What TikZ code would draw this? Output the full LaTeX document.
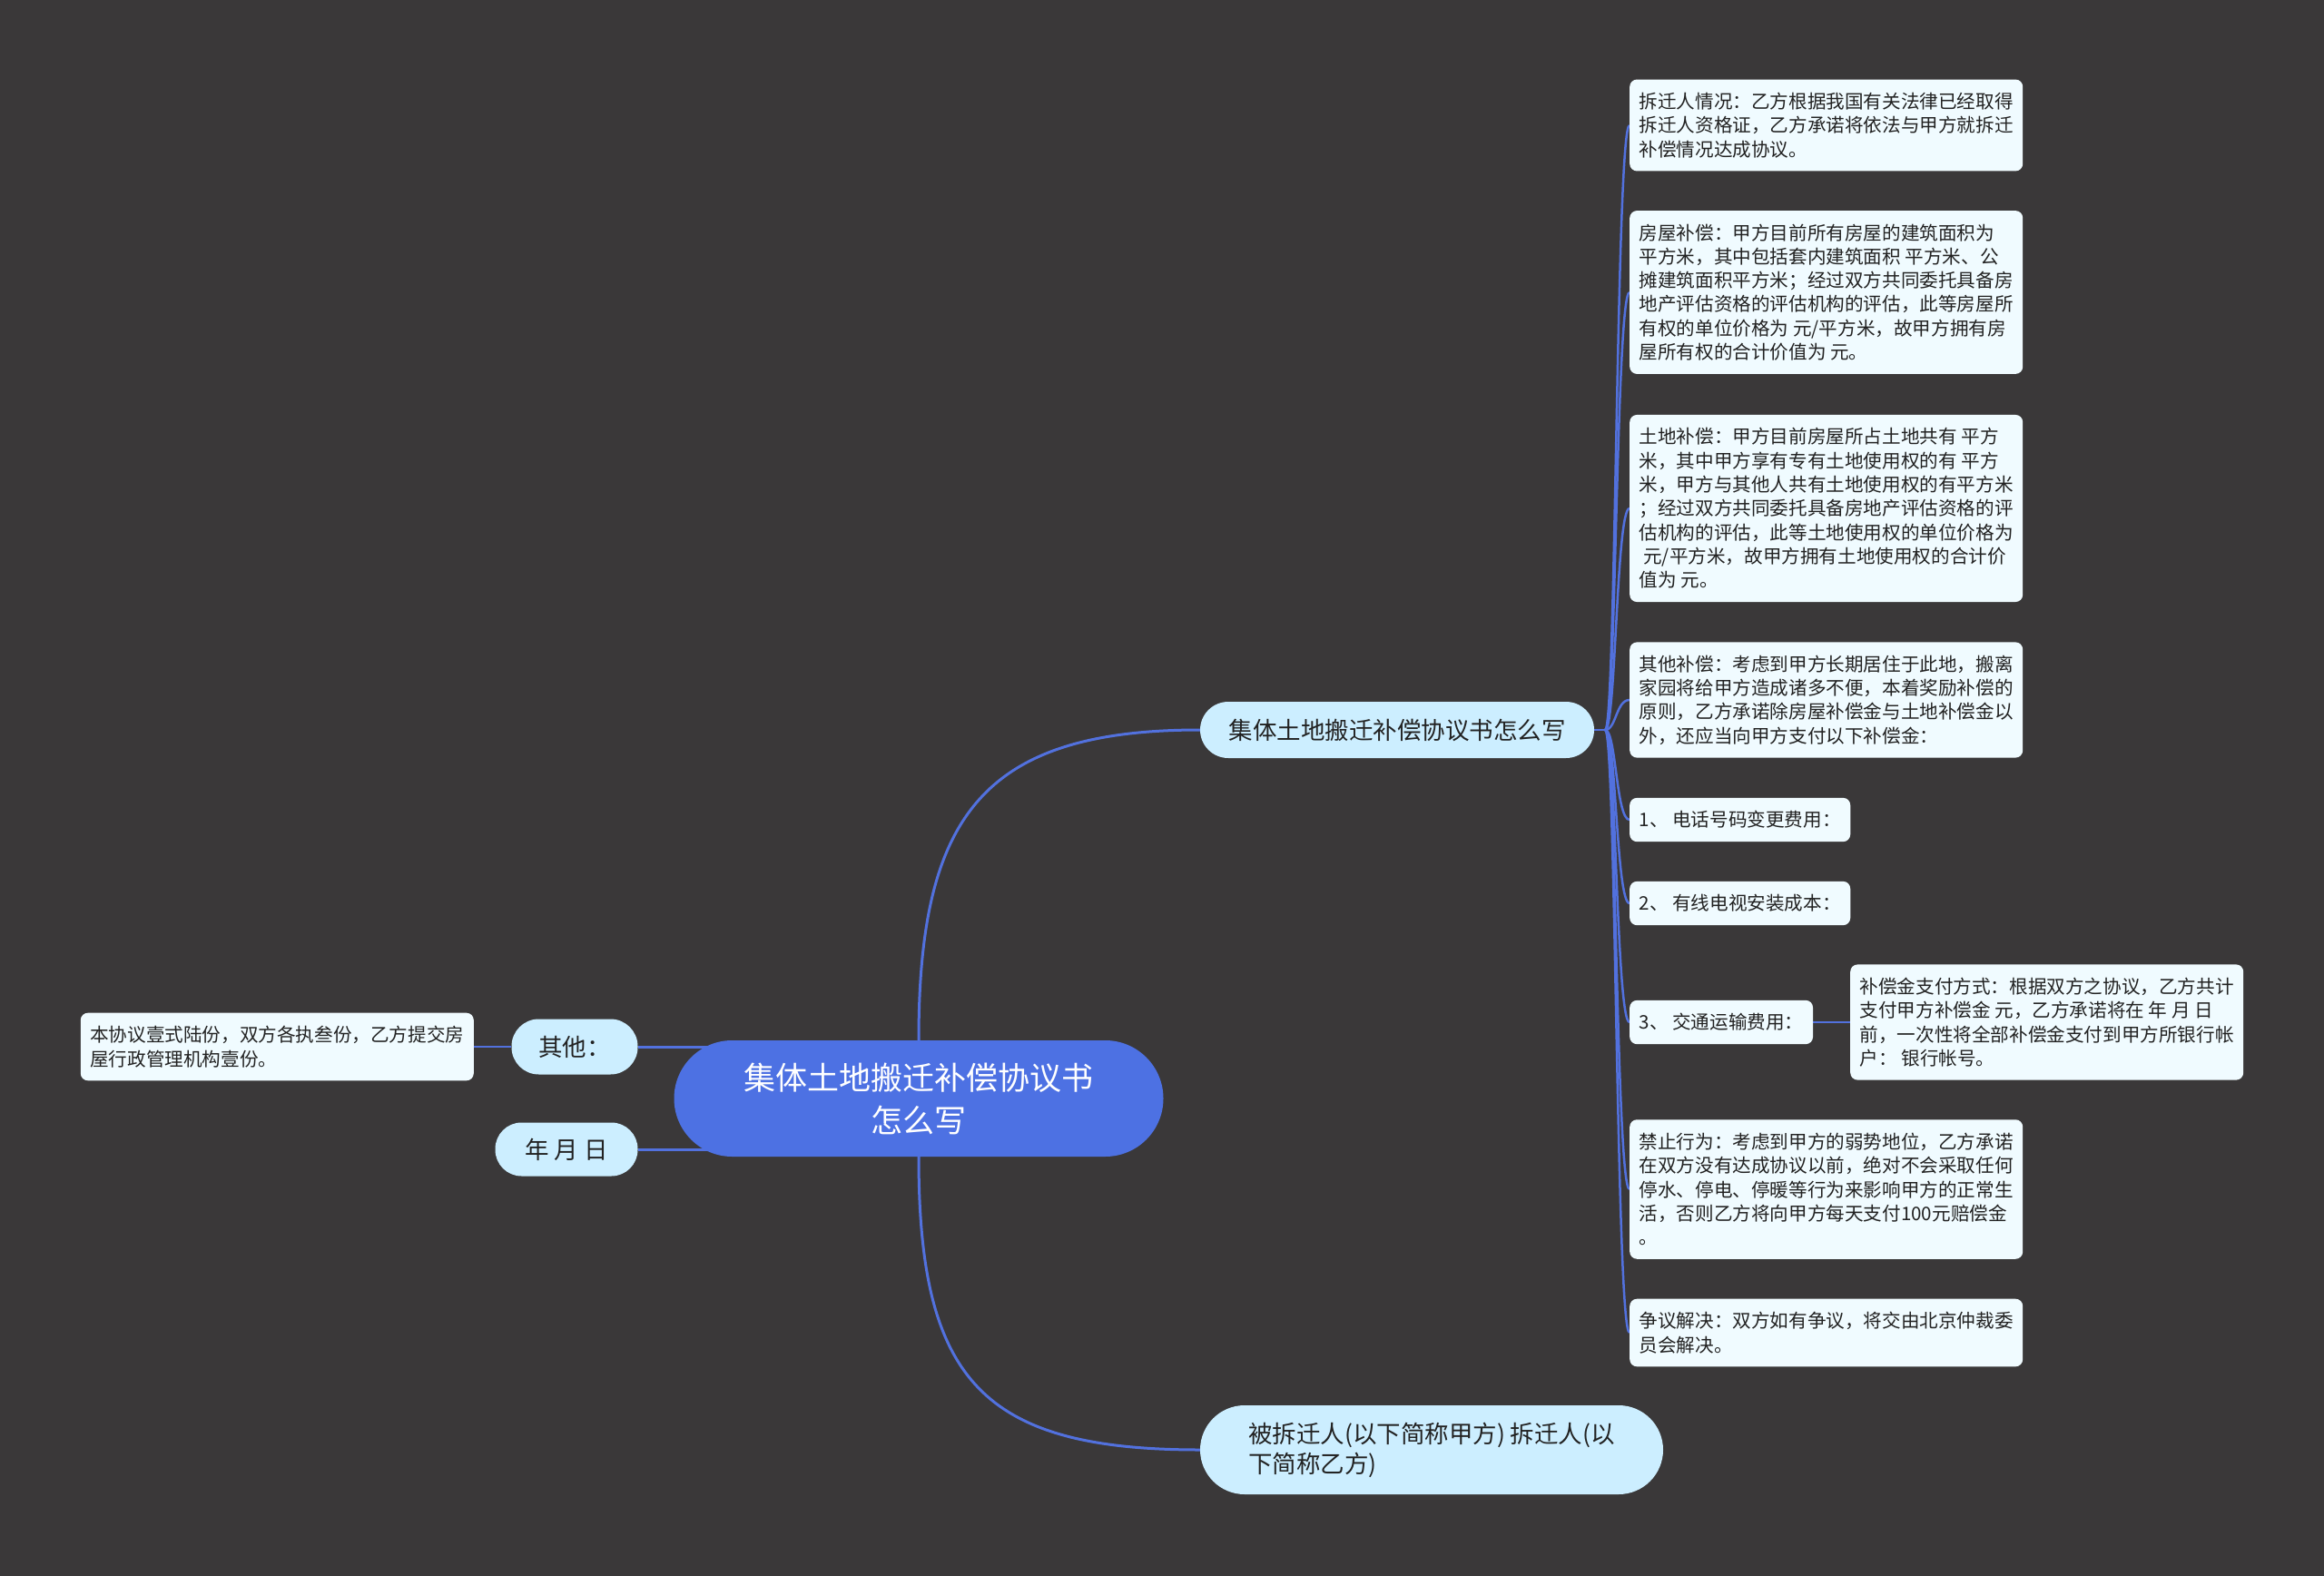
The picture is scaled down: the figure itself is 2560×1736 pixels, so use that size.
\documentclass[tikz,border=0pt]{standalone}
\usepackage{fontspec}
\setmainfont{Noto Sans CJK SC}
\usetikzlibrary{calc}
\definecolor{bgc}{RGB}{58,56,57}
\definecolor{cfill}{RGB}{77,113,227}
\definecolor{lfill}{RGB}{204,238,255}
\definecolor{leaffill}{RGB}{240,251,255}
\definecolor{linec}{RGB}{82,113,222}
\definecolor{txt}{RGB}{34,34,34}
\pgfdeclarelayer{bg}
\pgfdeclarelayer{edges}
\pgfsetlayers{bg,edges,main}
\begin{document}
\begin{tikzpicture}[x=1pt,y=-1pt,
  centre/.style={fill=cfill, text=white, align=center, rounded corners=64pt,
    minimum width=539pt, minimum height=128pt, inner sep=0pt,
    font=\fontsize{35}{47}\selectfont},
  lone/.style={fill=lfill, text=txt, inner sep=0pt, font=\fontsize{26.5}{33}\selectfont},
  leaf/.style={fill=leaffill, text=txt, rounded corners=8pt, align=left, anchor=west,
    inner xsep=10.5pt, inner ysep=4pt,
    font=\fontsize{20.6}{26.3}\selectfont, minimum height={#1*26.3pt+22pt}},
  conn/.style={draw=linec, line width=3pt},
  br/.style={draw=linec, line width=2.5pt}
]
\useasboundingbox (0,0) rectangle (2560,1736);
\begin{pgfonlayer}{bg}
\fill[bgc] (0,0) rectangle (2560,1736);
\end{pgfonlayer}

% central
\node[centre] (c) at (1012,1210) {集体土地搬迁补偿协议书\\怎么写};

% level 1
\node[lone, minimum width=434pt, minimum height=62pt, rounded corners=31pt] (a) at (1539,804) {集体土地搬迁补偿协议书怎么写};
\node[lone, minimum width=510pt, minimum height=98pt, rounded corners=49pt, align=left] (b) at (1577,1597) {被拆迁人(以下简称甲方) 拆迁人(以\\下简称乙方)};
\node[lone, minimum width=139pt, minimum height=61pt, rounded corners=30pt] (q) at (633,1153) {其他：};
\node[lone, minimum width=157pt, minimum height=59pt, rounded corners=29pt] (d) at (624,1266) {年 月 日};

% left leaf
\node[leaf=2, anchor=east] (q1) at (522,1153) {本协议壹式陆份，双方各执叁份，乙方提交房\\屋行政管理机构壹份。};

% right leaves
\node[leaf=3] (r1) at (1795,138) {拆迁人情况：乙方根据我国有关法律已经取得\\拆迁人资格证，乙方承诺将依法与甲方就拆迁\\补偿情况达成协议。};
\node[leaf=6] (r2) at (1795,322) {房屋补偿：甲方目前所有房屋的建筑面积为\\平方米，其中包括套内建筑面积 平方米、公\\摊建筑面积平方米；经过双方共同委托具备房\\地产评估资格的评估机构的评估，此等房屋所\\有权的单位价格为 元/平方米，故甲方拥有房\\屋所有权的合计价值为 元。};
\node[leaf=7] (r3) at (1795,560) {土地补偿：甲方目前房屋所占土地共有 平方\\米，其中甲方享有专有土地使用权的有 平方\\米，甲方与其他人共有土地使用权的有平方米\\；经过双方共同委托具备房地产评估资格的评\\估机构的评估，此等土地使用权的单位价格为\\~元/平方米，故甲方拥有土地使用权的合计价\\值为 元。};
\node[leaf=4] (r4) at (1795,771) {其他补偿：考虑到甲方长期居住于此地，搬离\\家园将给甲方造成诸多不便，本着奖励补偿的\\原则，乙方承诺除房屋补偿金与土地补偿金以\\外，还应当向甲方支付以下补偿金：};
\node[leaf=1] (r5) at (1795,903) {1、 电话号码变更费用：};
\node[leaf=1] (r6) at (1795,995) {2、 有线电视安装成本：};
\node[leaf=1] (r7) at (1795,1126) {3、 交通运输费用：};
\node[leaf=4] (r8) at (2038,1126) {补偿金支付方式：根据双方之协议，乙方共计\\支付甲方补偿金 元，乙方承诺将在 年 月 日\\前，一次性将全部补偿金支付到甲方所银行帐\\户： 银行帐号。};
\node[leaf=5] (r9) at (1795,1310) {禁止行为：考虑到甲方的弱势地位，乙方承诺\\在双方没有达成协议以前，绝对不会采取任何\\停水、停电、停暖等行为来影响甲方的正常生\\活，否则乙方将向甲方每天支付100元赔偿金\\。};
\node[leaf=2] (r10) at (1795,1468) {争议解决：双方如有争议，将交由北京仲裁委\\员会解决。};

\coordinate (hub) at ($(a.east)+(12,0)$);

\begin{pgfonlayer}{edges}
\draw[conn] (c.north) .. controls ($(c.north)+(0,-246)$) and ($(a.west)+(-240,0)$) .. (a.west);
\draw[conn] (c.south) .. controls ($(c.south)+(0,246)$) and ($(b.west)+(-240,0)$) .. (b.west);
\draw[conn] (q.east) -- (q.east -| c.center);
\draw[conn] (d.east) -- (d.east -| c.center);
\draw[br] (q.west) -- (q1.east);
\draw[br] (a.east) -- (hub);
\foreach \n in {r1,r2,r3,r4,r5,r6,r7,r9,r10}{
  \draw[br] (hub) .. controls ($(hub)+(12,0)$) and ($(hub |- \n.west)+(12,0)$) .. (\n.west);
}
\draw[br] (r7.east) -- (r8.west);
\end{pgfonlayer}
\end{tikzpicture}
\end{document}
